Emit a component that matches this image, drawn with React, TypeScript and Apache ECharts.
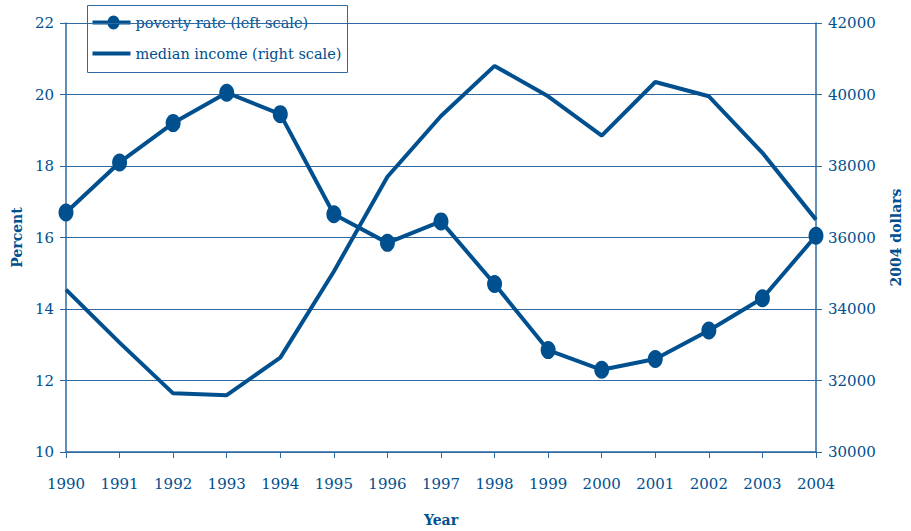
import React, { useEffect, useRef } from "react";
import * as echarts from "echarts";

const years = ["1990","1991","1992","1993","1994","1995","1996","1997","1998","1999","2000","2001","2002","2003","2004"];
const povertyRate = [16.7, 18.1, 19.2, 20.05, 19.45, 16.65, 15.85, 16.45, 14.7, 12.85, 12.3, 12.6, 13.4, 14.3, 16.05];
const medianIncome = [34540, 33060, 31640, 31590, 32640, 35050, 37700, 39400, 40800, 39950, 38850, 40350, 39950, 38370, 36500];
const seriesNames = ["poverty rate (left scale)", "median income (right scale)"];

const leftTicks = { min: 10, max: 22, interval: 2 };
const rightTicks = { min: 30000, max: 42000, interval: 2000 };

const BLUE = "#00508f";
const AXIS = "#2e6aa1";
const FONT = "DejaVu Serif";

export default function App() {
  const ref = useRef<HTMLDivElement>(null);
  useEffect(() => {
    if (!ref.current) return;
    const chart = echarts.init(ref.current, undefined, { renderer: "svg" });
    chart.setOption({
      animation: false,
      backgroundColor: "#ffffff",
      grid: { left: 66, right: 95, top: 23, bottom: 79, containLabel: false, outerBoundsMode: "none" },
      legend: { show: false },
      graphic: [
        {
          type: "group",
          left: 87,
          top: 5,
          z: 100,
          children: [
            { type: "rect", shape: { x: 0, y: 0, width: 260, height: 67 }, style: { fill: "#ffffff", stroke: AXIS, lineWidth: 1 } },
            { type: "line", shape: { x1: 5, y1: 17, x2: 43, y2: 17 }, style: { stroke: BLUE, lineWidth: 4 } },
            { type: "ellipse", shape: { cx: 26, cy: 17, rx: 6, ry: 7 }, style: { fill: BLUE } },
            { type: "text", x: 48, y: 17, style: { text: seriesNames[0], fill: BLUE, font: `14.5px "${FONT}"`, verticalAlign: "middle" } },
            { type: "line", shape: { x1: 5, y1: 48, x2: 43, y2: 48 }, style: { stroke: BLUE, lineWidth: 4 } },
            { type: "text", x: 48, y: 48, style: { text: seriesNames[1], fill: BLUE, font: `14.5px "${FONT}"`, verticalAlign: "middle" } },
          ],
        },
      ],
      xAxis: {
        type: "category",
        data: years,
        boundaryGap: false,
        name: "Year",
        nameLocation: "middle",
        nameGap: 61,
        nameTextStyle: { fontFamily: FONT, fontSize: 14, fontWeight: "bold", color: BLUE },
        axisLine: { lineStyle: { color: AXIS, width: 1.5 } },
        axisTick: { show: true, length: 6, alignWithLabel: true, lineStyle: { color: AXIS } },
        axisLabel: { margin: 24, fontFamily: FONT, fontSize: 15, color: BLUE },
        splitLine: { show: false },
      },
      yAxis: [
        {
          type: "value",
          position: "left",
          min: leftTicks.min,
          max: leftTicks.max,
          interval: leftTicks.interval,
          name: "Percent",
          nameLocation: "middle",
          nameGap: 39,
          nameTextStyle: { fontFamily: FONT, fontSize: 14, fontWeight: "bold", color: BLUE },
          axisLine: { show: true, lineStyle: { color: AXIS, width: 1.5 } },
          axisTick: { show: true, length: 6, lineStyle: { color: AXIS } },
          axisLabel: { margin: 12, fontFamily: FONT, fontSize: 15, color: BLUE },
          splitLine: { show: true, lineStyle: { color: AXIS, width: 1 } },
        },
        {
          type: "value",
          position: "right",
          min: rightTicks.min,
          max: rightTicks.max,
          interval: rightTicks.interval,
          name: "2004 dollars",
          nameLocation: "middle",
          nameGap: 73,
          nameRotate: 90,
          nameTextStyle: { fontFamily: FONT, fontSize: 14, fontWeight: "bold", color: BLUE },
          axisLine: { show: true, lineStyle: { color: AXIS, width: 1.5 } },
          axisTick: { show: true, length: 6, lineStyle: { color: AXIS } },
          axisLabel: { margin: 12, fontFamily: FONT, fontSize: 15, color: BLUE, formatter: (v: number) => String(v) },
          splitLine: { show: false },
        },
      ],
      series: [
        {
          name: seriesNames[0],
          type: "line",
          yAxisIndex: 0,
          data: povertyRate,
          symbol: "circle",
          symbolSize: [15, 18],
          showAllSymbol: true,
          lineStyle: { color: BLUE, width: 4 },
          itemStyle: { color: BLUE },
          z: 3,
        },
        {
          name: seriesNames[1],
          type: "line",
          yAxisIndex: 1,
          data: medianIncome,
          symbol: "none",
          lineStyle: { color: BLUE, width: 4 },
          itemStyle: { color: BLUE },
          z: 2,
        },
      ],
    });
    return () => chart.dispose();
  }, []);
  return <div ref={ref} style={{ width: 911, height: 531, position: "absolute", left: 0, top: 0 }} />;
}
